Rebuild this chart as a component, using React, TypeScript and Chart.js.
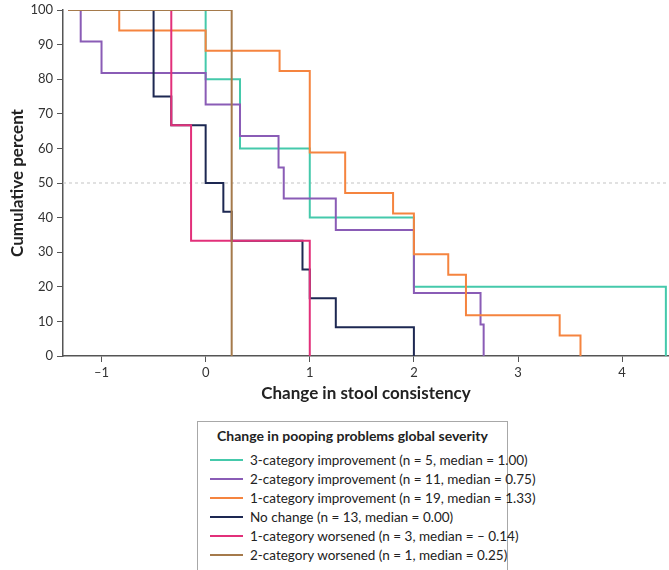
import React, { useEffect, useRef } from 'react';
import { Chart, registerables } from 'chart.js';

Chart.register(...registerables);

const X_MIN = -1.37;
const X_MAX = 4.45;
const START_X = -1.32;

const SERIES_LABELS = [
  '3-category improvement (n = 5, median = 1.00)',
  '2-category improvement (n = 11, median = 0.75)',
  '1-category improvement (n = 19, median = 1.33)',
  'No change (n = 13, median = 0.00)',
  '1-category worsened (n = 3, median = \u2013 0.14)',
  '2-category worsened (n = 1, median = 0.25)',
];
const SERIES_COLORS = ['#45c9ab', '#8a5cb6', '#f5843f', '#1d2852', '#e2307a', '#a57a4b'];

const TEAL_X = [START_X, 0, 0.33, 1.0, 2.0, 4.42];
const TEAL_Y = [100, 80, 60, 40, 20, 0];

const PURPLE_X = [START_X, -1.2, -1.0, 0, 0.33, 0.7, 0.75, 1.25, 2.0, 2.64, 2.67];
const PURPLE_Y = [100, 90.9, 81.8, 72.7, 63.6, 54.5, 45.5, 36.4, 18.2, 9.1, 0];

const ORANGE_X = [START_X, -0.83, 0, 0.71, 1.0, 1.34, 1.8, 2.0, 2.33, 2.5, 3.4, 3.6];
const ORANGE_Y = [100, 94.1, 88.2, 82.4, 58.8, 47.1, 41.2, 29.4, 23.5, 11.8, 5.9, 0];

const NAVY_X = [START_X, -0.5, -0.33, 0, 0.17, 0.25, 0.93, 1.0, 1.25, 2.0];
const NAVY_Y = [100, 75, 66.7, 50, 41.7, 33.3, 25, 16.7, 8.3, 0];

const PINK_X = [START_X, -0.33, -0.14, 1.0];
const PINK_Y = [100, 66.7, 33.3, 0];

const BROWN_X = [START_X, 0.25];
const BROWN_Y = [100, 0];

const SERIES_X = [TEAL_X, PURPLE_X, ORANGE_X, NAVY_X, PINK_X, BROWN_X];
const SERIES_Y = [TEAL_Y, PURPLE_Y, ORANGE_Y, NAVY_Y, PINK_Y, BROWN_Y];

const REFERENCE_Y = 50;
const Y_TICK_STEP = 10;

const X_TITLE = 'Change in stool consistency';
const Y_TITLE = 'Cumulative percent';
const LEGEND_TITLE = 'Change in pooping problems global severity';

const FONT = 'Lato, "Open Sans", sans-serif';

export default function App() {
  const ref = useRef<HTMLCanvasElement>(null);

  useEffect(() => {
    document.body.style.margin = '0';
    const toPts = (xs: number[], ys: number[]) => xs.map((x, i) => ({ x, y: ys[i] }));
    const datasets: any[] = SERIES_X.map((xs, i) => ({
      label: SERIES_LABELS[i],
      data: toPts(xs, SERIES_Y[i]),
      borderColor: SERIES_COLORS[i],
      backgroundColor: SERIES_COLORS[i],
      borderWidth: 2,
      stepped: 'before',
      pointRadius: 0,
      fill: false,
      order: 10 - i,
    }));
    datasets.push({
      label: 'ref',
      data: [{ x: X_MIN, y: REFERENCE_Y }, { x: X_MAX, y: REFERENCE_Y }],
      borderColor: '#c4c4c4',
      borderWidth: 1,
      borderDash: [3, 3],
      pointRadius: 0,
      fill: false,
      order: 100,
    });

    const chart = new Chart(ref.current as HTMLCanvasElement, {
      type: 'line',
      data: { datasets },
      options: {
        responsive: false,
        animation: false,
        layout: { padding: { top: 10, left: 0, right: 0, bottom: 0 } },
        plugins: { legend: { display: false }, tooltip: { enabled: false } },
        scales: {
          x: {
            type: 'linear',
            min: X_MIN,
            max: X_MAX,
            ticks: {
              stepSize: 1,
              includeBounds: false,
              maxRotation: 0,
              padding: 3,
              color: '#333',
              font: { family: FONT, size: 13 },
              callback: (v: any) => {
                const n = Number(v);
                return n < 0 ? '\u2013' + Math.abs(n) : String(n);
              },
            },
            grid: { drawOnChartArea: false, drawTicks: true, tickLength: 6, color: '#555' },
            border: { color: '#555', width: 1.5 },
            title: {
              display: true,
              text: X_TITLE,
              color: '#222',
              font: { family: FONT, size: 17, weight: 'bold' },
              padding: { top: 0, bottom: 6 },
            },
            afterFit: (s: any) => { s.height = 54; s.paddingLeft = 0; s.paddingRight = 0; },
          },
          y: {
            type: 'linear',
            min: 0,
            max: 100,
            ticks: {
              stepSize: Y_TICK_STEP,
              padding: 4,
              color: '#333',
              font: { family: FONT, size: 13 },
            },
            grid: { drawOnChartArea: false, drawTicks: true, tickLength: 6, color: '#555' },
            border: { color: '#555', width: 1.5 },
            title: {
              display: true,
              text: Y_TITLE,
              color: '#222',
              font: { family: FONT, size: 17, weight: 'bold' },
              padding: { top: 7, bottom: 0 },
            },
            afterFit: (s: any) => { s.width = 63; s.paddingTop = 0; s.paddingBottom = 0; },
          },
        },
      },
    } as any);
    return () => chart.destroy();
  }, []);

  return (
    <div style={{ position: 'relative', width: 669, height: 570, fontFamily: FONT }}>
      <canvas ref={ref} width={669} height={410} style={{ position: 'absolute', left: 0, top: 0 }} />
      <div
        style={{
          position: 'absolute',
          left: 197,
          top: 421,
          width: 311,
          height: 150,
          border: '1px solid #a8a8a8',
          boxSizing: 'border-box',
          background: '#fff',
          zIndex: 2,
        }}
      >
        <div
          style={{
            position: 'absolute',
            left: 0,
            right: 0,
            top: 5,
            textAlign: 'center',
            fontWeight: 'bold',
            fontSize: 14,
            color: '#222',
            lineHeight: '18px',
          }}
        >
          {LEGEND_TITLE}
        </div>
        {SERIES_LABELS.map((lab, i) => (
          <div
            key={lab}
            style={{
              position: 'absolute',
              left: 12,
              top: 29 + i * 19,
              height: 18,
              display: 'flex',
              alignItems: 'center',
              whiteSpace: 'nowrap',
            }}
          >
            <span style={{ display: 'inline-block', width: 33, height: 2, background: SERIES_COLORS[i], marginRight: 7 }} />
            <span style={{ fontSize: 13.5, color: '#222', lineHeight: '18px' }}>{lab}</span>
          </div>
        ))}
      </div>
    </div>
  );
}
